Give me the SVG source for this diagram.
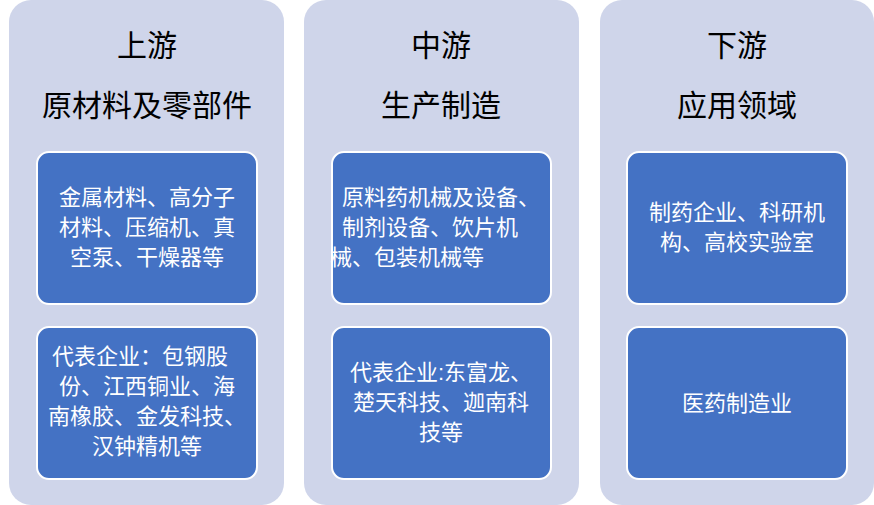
<svg xmlns="http://www.w3.org/2000/svg" width="874" height="505" viewBox="0 0 874 505">
<style>
.panel{fill:#cfd5ea}
.box{fill:#4472c4;stroke:#ffffff;stroke-width:2}
.h{font-family:"Liberation Sans","Noto Sans CJK SC",sans-serif;font-size:30px;fill:#000;text-anchor:middle}
.t{font-family:"Liberation Sans","Noto Sans CJK SC",sans-serif;font-size:22px;fill:#fff;text-anchor:middle}
</style>
<rect width="874" height="505" fill="#fff"/>
<g id="up">
<rect class="panel" x="9" y="0" width="275" height="505" rx="22"/>
<text class="h" x="147" y="56">上游</text>
<text class="h" x="147" y="116">原材料及零部件</text>
</g>
<g id="mid">
<rect class="panel" x="304" y="0" width="275" height="505" rx="22"/>
<text class="h" x="441" y="56">中游</text>
<text class="h" x="441" y="116">生产制造</text>
</g>
<g id="down">
<rect class="panel" x="600" y="0" width="274" height="505" rx="22"/>
<text class="h" x="737" y="56">下游</text>
<text class="h" x="737" y="116">应用领域</text>
</g>
<g id="u1"><rect class="box" x="37" y="152" width="220" height="152" rx="12"/>
<text class="t" x="147" y="205">金属材料、高分子</text><text class="t" x="147" y="235">材料、压缩机、真</text><text class="t" x="147" y="265">空泵、干燥器等</text></g>
<g id="u2"><rect class="box" x="37" y="327" width="220" height="152" rx="12"/>
<text class="t" x="140" y="364">代表企业：包钢股</text><text class="t" x="147" y="394">份、江西铜业、海</text><text class="t" x="147" y="424">南橡胶、金发科技、</text><text class="t" x="147" y="454">汉钟精机等</text></g>
<g id="m1"><rect class="box" x="332" y="152" width="219" height="152" rx="12"/>
<text class="t" x="441" y="205">原料药机械及设备、</text><text class="t" x="430" y="235">制剂设备、饮片机</text><text class="t" x="407" y="265">械、包装机械等</text></g>
<g id="m2"><rect class="box" x="332" y="327" width="219" height="152" rx="12"/>
<text class="t" x="441" y="380">代表企业:东富龙、</text><text class="t" x="441" y="410">楚天科技、迦南科</text><text class="t" x="441" y="440">技等</text></g>
<g id="d1"><rect class="box" x="627" y="152" width="220" height="152" rx="12"/>
<text class="t" x="737" y="220">制药企业、科研机</text><text class="t" x="737" y="250">构、高校实验室</text></g>
<g id="d2"><rect class="box" x="627" y="327" width="220" height="152" rx="12"/>
<text class="t" x="737" y="411">医药制造业</text></g>
<g id="connectors"/>
</svg>
